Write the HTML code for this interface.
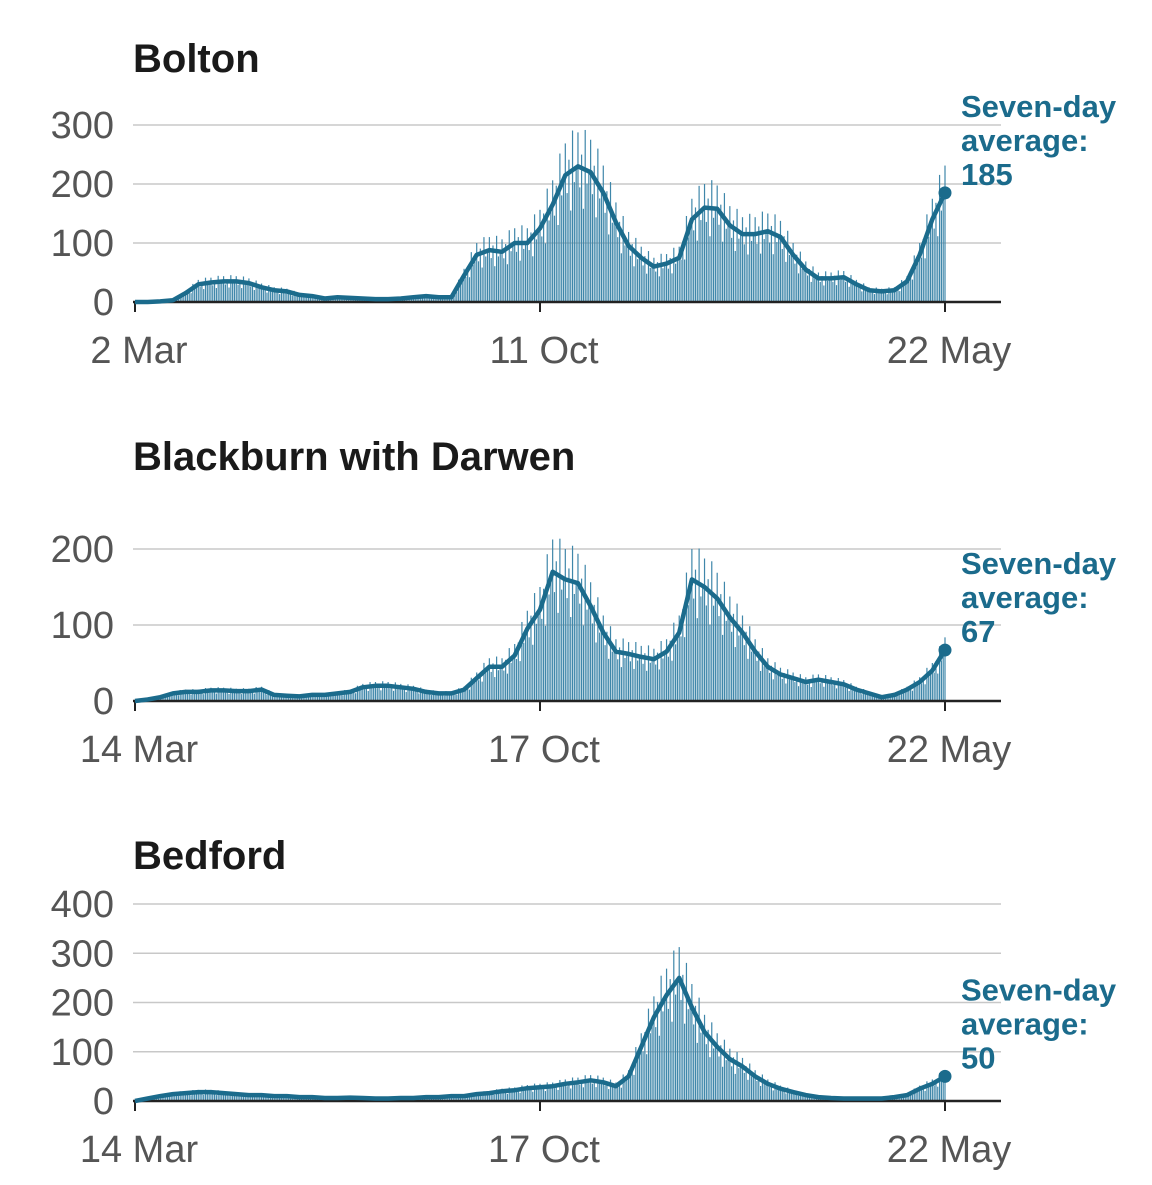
<!DOCTYPE html>
<html><head><meta charset="utf-8">
<style>
body{margin:0;background:#fff;width:1152px;height:1180px;overflow:hidden;font-family:"Liberation Sans",sans-serif;}
svg text{font-family:"Liberation Sans",sans-serif;}
</style></head>
<body>
<svg id="chart" width="1152" height="1180" xmlns="http://www.w3.org/2000/svg"></svg>
<script>
const boltonAvg=[0,0,1,3,15,30,33,35,35,32,25,20,18,12,10,6,8,7,6,5,5,6,8,10,8,8,45,80,88,85,100,100,125,165,215,230,220,185,135,95,75,60,65,75,140,160,158,130,115,115,120,110,80,55,40,40,42,30,20,18,20,35,80,140,185];
const blackburnAvg=[0,2,5,10,12,12,14,14,13,13,15,8,7,6,8,8,10,12,18,20,20,18,16,12,10,10,15,30,45,45,60,95,120,170,160,155,125,90,65,62,58,55,65,90,160,150,135,110,90,65,45,35,30,25,28,25,22,15,10,5,8,15,25,40,67];
const bedfordAvg=[0,5,10,14,16,18,18,16,14,12,12,10,10,8,8,6,6,7,6,5,5,6,6,8,8,10,10,14,16,20,22,26,28,30,35,38,42,38,30,50,110,170,215,250,190,140,110,85,70,50,35,25,18,12,8,6,5,5,5,5,8,12,25,35,50];
const weekdayFactor=[1.25,0.85,1.1,0.7,1.3,0.9,1.0];
const titles=["Bolton","Blackburn with Darwen","Bedford"];
const yTicks=[[0,100,200,300],[0,100,200],[0,100,200,300,400]];
const yMaxes=[300,200,400];
const xLabels=[["2 Mar","11 Oct","22 May"],["14 Mar","17 Oct","22 May"],["14 Mar","17 Oct","22 May"]];
const lastValues=[185,67,50];
const series=[boltonAvg,blackburnAvg,bedfordAvg];
const panels=[{top:125,base:302,titleY:72},{top:549,base:701,titleY:470},{top:904,base:1101,titleY:869}];
const NS="http://www.w3.org/2000/svg";
const svg=document.getElementById('chart');
const X0=135,X1=945,GL=133,GR=1001;
function mk(tag,attrs,parent){const e=document.createElementNS(NS,tag);for(const k in attrs)e.setAttribute(k,attrs[k]);(parent||svg).appendChild(e);return e;}
panels.forEach((p,pi)=>{
  const g=mk('g',{});
  
  
  const yScale=v=>p.base-(v/yMaxes[pi])*(p.base-p.top);
  const data=series[pi];const n=data.length;
  const xScale=i=>X0+i*(X1-X0)/(n-1);
  const t=mk('text',{x:133,y:p.titleY,'font-size':40,'font-weight':'bold',fill:'#1a1a1a'},g);
  t.textContent=titles[pi];
  
  
  yTicks[pi].forEach(v=>{
    const y=yScale(v);
    if(v>0){const l=mk('line',{x1:GL,x2:GR,y1:y,y2:y,stroke:'#c8c8c8','stroke-width':1.5},g);
      
      }
    const tx=mk('text',{x:114,y:y+13,'font-size':38,fill:'#555','text-anchor':'end'},g);
    tx.textContent=v;
    
    
  });
  const days=Math.round((n-1)*7);
  for(let d=0;d<=days;d++){
    const f=d/7;const i0=Math.floor(f),i1=Math.min(n-1,i0+1);
    const v=(data[i0]+(data[i1]-data[i0])*(f-i0))*weekdayFactor[d%7];
    const x=X0+d*(X1-X0)/days;
    const b=mk('rect',{x:x-0.6,y:yScale(v),width:1.2,height:Math.max(0,p.base-yScale(v)),fill:'#3f87aa'},g);
    
    
  }
  const axis=mk('line',{x1:GL,x2:GR,y1:p.base,y2:p.base,stroke:'#222','stroke-width':2.5},g);
  
  
  [X0,(X0+X1)/2,X1].forEach((x,k)=>{
    const tk=mk('line',{x1:x,x2:x,y1:p.base,y2:p.base+10,stroke:'#222','stroke-width':2},g);
    
    
    const tl=mk('text',{x:x+4,y:p.base+61,'font-size':38,fill:'#555','text-anchor':'middle'},g);
    tl.textContent=xLabels[pi][k];
    
    
  });
  let dstr='';data.forEach((v,i)=>{dstr+=(i?'L':'M')+xScale(i).toFixed(1)+','+yScale(v).toFixed(1);});
  const ln=mk('path',{d:dstr,fill:'none',stroke:'#1b6b8c','stroke-width':4.5,'stroke-linejoin':'round'},g);
  
  
  const lv=lastValues[pi];
  const dot=mk('circle',{cx:X1,cy:yScale(lv),r:6.5,fill:'#1b6b8c'},g);
  
  
  const ay=yScale(lv)-76;
  const ann=mk('text',{x:961,y:ay,'font-size':31,'font-weight':'bold',fill:'#1b6b8c'},g);
  
  
  ["Seven-day","average:",String(lv)].forEach((s,k)=>{const ts=mk('tspan',{x:961,dy:k?34:0},ann);ts.textContent=s;});
});
</script>
</body></html>
